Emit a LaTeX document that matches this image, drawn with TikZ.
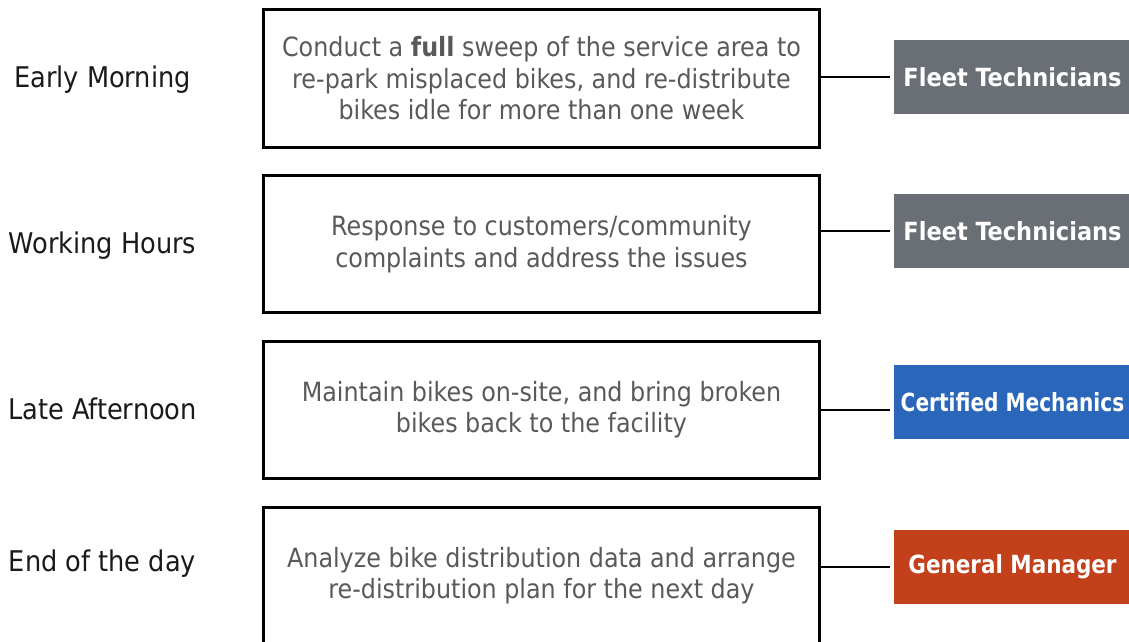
\documentclass[tikz,border=0pt]{standalone}
\usepackage{graphicx}
\usepackage{fontspec}
\setmainfont{DejaVu Sans Condensed}
\definecolor{boxtext}{HTML}{595959}
\definecolor{labeltext}{HTML}{1A1A1A}
\definecolor{rolegray}{HTML}{6A6F76}
\definecolor{roleblue}{HTML}{2A66B9}
\definecolor{rolered}{HTML}{C2401A}
\begin{document}
\begin{tikzpicture}[x=1pt,y=-1pt,
  mainbox/.style={draw=black, line width=3pt, minimum width=556pt, minimum height=137pt,
    inner sep=0pt, align=center, text=boxtext, font=\fontsize{26.5}{31.5}\selectfont},
  rolebox/.style={minimum width=237pt, minimum height=74pt, inner sep=0pt,
    text=white, font=\bfseries\fontsize{25}{30}\selectfont},
  timelabel/.style={anchor=base, inner sep=0pt, text=labeltext, font=\fontsize{28.5}{33}\selectfont},
  link/.style={draw=black, line width=2pt, shorten >=4pt}]
\useasboundingbox (0,0) rectangle (1129,642);
\node[timelabel] (t1) at (102.5,88) {Early Morning};
\node[timelabel] (t2) at (102.5,253) {Working Hours};
\node[timelabel] (t3) at (102.5,419) {Late Afternoon};
\node[timelabel] (t4) at (102.5,571) {End of the day};
\node[mainbox] (m1) at (541.5,78.5) {Conduct a \textbf{full} sweep of the service area to\\re-park misplaced bikes, and re-distribute\\bikes idle for more than one week};
\node[mainbox] (m2) at (541.5,244) {Response to customers/community\\complaints and address the issues};
\node[mainbox] (m3) at (541.5,409.5) {Maintain bikes on-site, and bring broken\\bikes back to the facility};
\node[mainbox] (m4) at (541.5,575.5) {Analyze bike distribution data and arrange\\re-distribution plan for the next day};
\node[rolebox, fill=rolegray] (r1) at (1012.5,77) {Fleet Technicians};
\node[rolebox, fill=rolegray] (r2) at (1012.5,231) {Fleet Technicians};
\node[rolebox, fill=roleblue] (r3) at (1012.5,402) {\scalebox{0.895}[1]{Certified Mechanics}};
\node[rolebox, fill=rolered] (r4) at (1012.5,567) {\scalebox{0.955}[1]{General Manager}};
\draw[link] (m1.east |- r1.west) -- (r1.west);
\draw[link] (m2.east |- r2.west) -- (r2.west);
\draw[link] (m3.east) -- (r3.west |- m3.east);
\draw[link] (m4.east |- r4.west) -- (r4.west);
\end{tikzpicture}
\end{document}
